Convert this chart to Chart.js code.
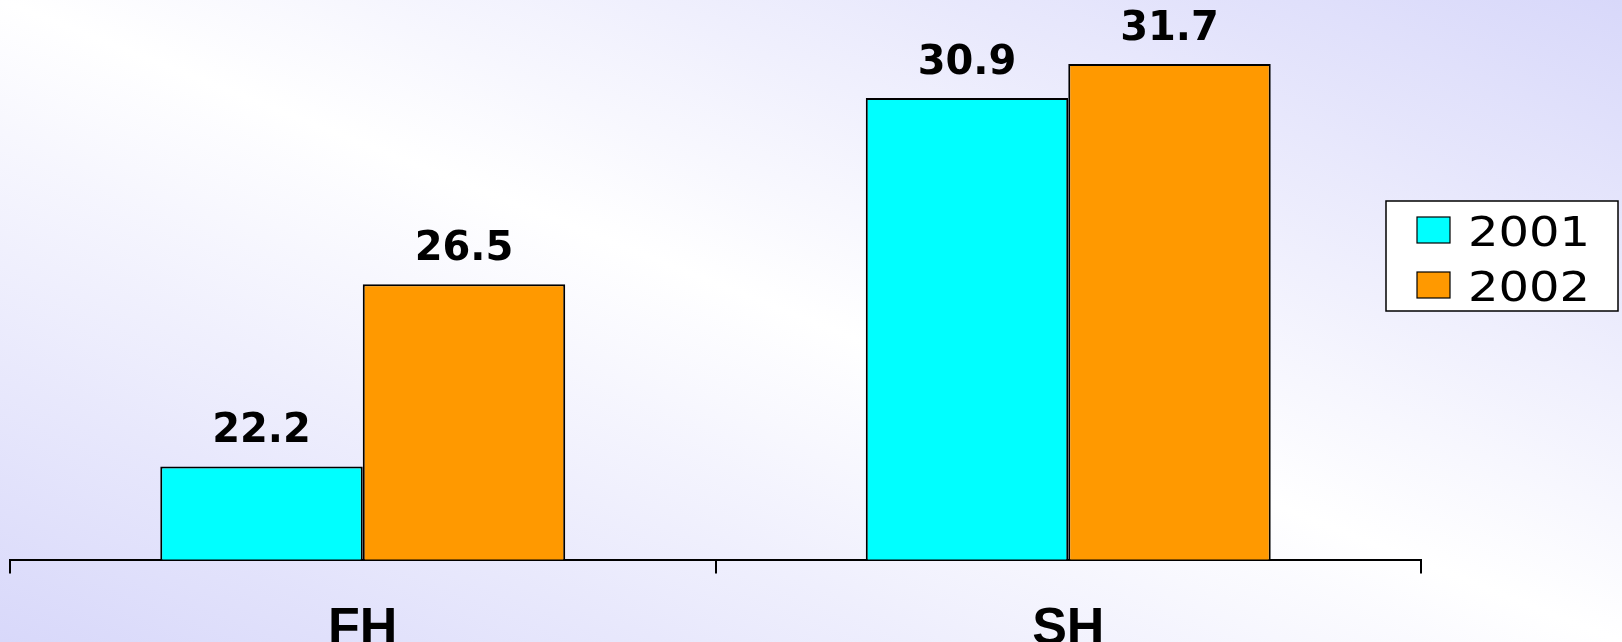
<!DOCTYPE html>
<html>
<head>
<meta charset="utf-8">
<script src="https://cdn.jsdelivr.net/npm/chart.js@4"></script>
<style>
  html, body { margin: 0; padding: 0; overflow: hidden; }
  body {
    width: 1622px; height: 642px;
    background: linear-gradient(to top right, #d8d8fa 0%, #ffffff 50%, #d8d8fa 100%);
  }
  #wrap { width: 1622px; height: 642px; }
</style>
</head>
<body>
<div id="wrap"><canvas id="chart" width="1622" height="642"></canvas></div>
<script>
// data
const categories = ["FH", "SH"];
const seriesNames = ["2001", "2002"];
const values2001 = [22.2, 30.9];
const values2002 = [26.5, 31.7];
const seriesColors = ["#00ffff", "#ff9900"];

// labels above the bars
const valueLabels = {
  id: "valueLabels",
  afterDatasetsDraw(chart) {
    const ctx = chart.ctx;
    ctx.save();
    ctx.font = "bold 40px 'DejaVu Sans'";
    ctx.fillStyle = "#000";
    ctx.textAlign = "center";
    ctx.textBaseline = "alphabetic";
    chart.data.datasets.forEach(function(ds, i) {
      chart.getDatasetMeta(i).data.forEach(function(el, j) {
        ctx.fillText(ds.data[j].toFixed(1), el.x, el.y - 24);
      });
    });
    ctx.restore();
  }
};

// boxed legend on the right
const boxLegend = {
  id: "boxLegend",
  afterDraw(chart) {
    const ctx = chart.ctx;
    const bx = 1386, by = 201, bw = 232, bh = 110;
    ctx.save();
    ctx.fillStyle = "#fff";
    ctx.fillRect(bx, by, bw, bh);
    ctx.strokeStyle = "#000";
    ctx.lineWidth = 1.5;
    ctx.strokeRect(bx, by, bw, bh);
    chart.data.datasets.forEach(function(ds, i) {
      const y = by + 16 + i * 55;
      ctx.fillStyle = ds.backgroundColor;
      ctx.fillRect(bx + 31, y, 33, 26);
      ctx.lineWidth = 1.2;
      ctx.strokeRect(bx + 31, y, 33, 26);
      ctx.save();
      ctx.translate(bx + 82, y + 29);
      ctx.scale(1.2, 1);
      ctx.fillStyle = "#000";
      ctx.font = "40px 'DejaVu Sans'";
      ctx.textBaseline = "alphabetic";
      ctx.fillText(ds.label, 0, 0);
      ctx.restore();
    });
    ctx.restore();
  }
};

new Chart(document.getElementById("chart"), {
  type: "bar",
  data: {
    labels: categories,
    datasets: [
      {
        label: seriesNames[0],
        data: values2001,
        backgroundColor: seriesColors[0],
        borderColor: "#000",
        borderWidth: 2
      },
      {
        label: seriesNames[1],
        data: values2002,
        backgroundColor: seriesColors[1],
        borderColor: "#000",
        borderWidth: 2
      }
    ]
  },
  options: {
    responsive: false,
    animation: false,
    // bottom is negative so the axis labels sit low and get cut like the original
    layout: { padding: { left: 10, right: 201, top: 9, bottom: -43 } },
    datasets: { bar: { barPercentage: 1, categoryPercentage: 0.574 } },
    plugins: { legend: { display: false }, tooltip: { enabled: false } },
    scales: {
      y: { display: false, min: 20, max: 33 },
      x: {
        border: { display: true, color: "#000", width: 2 },
        grid: {
          display: true,
          offset: true,
          drawOnChartArea: false,
          drawTicks: true,
          tickLength: 14,
          color: "#000",
          lineWidth: 2
        },
        ticks: {
          color: "#000",
          padding: 37,
          font: { family: "'Liberation Sans'", size: 52, weight: "bold", lineHeight: 0.72 }
        }
      }
    }
  },
  plugins: [valueLabels, boxLegend]
});
</script>
</body>
</html>
